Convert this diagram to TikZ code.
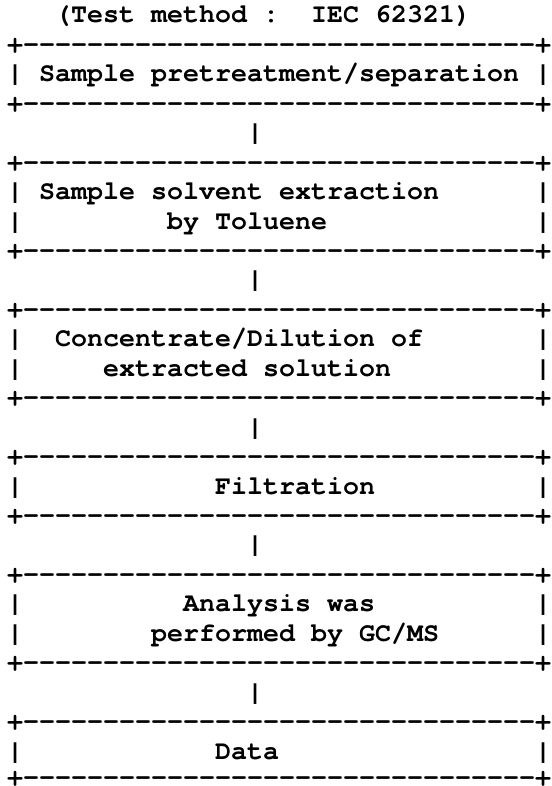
\documentclass[tikz,border=0pt]{standalone}
\usepackage{fontspec}
\setmonofont{texgyrecursor}[Extension=.otf, UprightFont=*-regular, BoldFont=*-bold]
\newcommand{\hrow}{+--------------------------------+}
\begin{document}
\begin{tikzpicture}[x=1pt,y=1pt,
  asc/.style={anchor=base west, inner sep=0pt, outer sep=0pt,
    font=\ttfamily\bfseries\fontsize{26.667}{29.44}\selectfont\frenchspacing}]
\useasboundingbox (0,0) rectangle (551,-786);
% title
\node[asc] (title) at (55,-23.00) {(Test method :~~IEC 62321)};
% box 1
\node[asc] (b1t) at (7,-52.44) {\hrow};
\node[asc] (b1l1) at (7,-81.88) {|};
\node[asc] (b1x1) at (39,-81.88) {Sample pretreatment/separation};
\node[asc] (b1r1) at (535,-81.88) {|};
\node[asc] (b1b) at (7,-111.32) {\hrow};
\node[asc] (c1) at (247,-140.76) {|};
% box 2
\node[asc] (b2t) at (7,-170.20) {\hrow};
\node[asc] (b2l1) at (7,-199.64) {|};
\node[asc] (b2x1) at (39,-199.64) {Sample solvent extraction};
\node[asc] (b2r1) at (535,-199.64) {|};
\node[asc] (b2l2) at (7,-229.08) {|};
\node[asc] (b2x2) at (167,-229.08) {by Toluene};
\node[asc] (b2r2) at (535,-229.08) {|};
\node[asc] (b2b) at (7,-258.52) {\hrow};
\node[asc] (c2) at (247,-287.96) {|};
% box 3
\node[asc] (b3t) at (7,-317.40) {\hrow};
\node[asc] (b3l1) at (7,-346.84) {|};
\node[asc] (b3x1) at (55,-346.84) {Concentrate/Dilution of};
\node[asc] (b3r1) at (535,-346.84) {|};
\node[asc] (b3l2) at (7,-376.28) {|};
\node[asc] (b3x2) at (103,-376.28) {extracted solution};
\node[asc] (b3r2) at (535,-376.28) {|};
\node[asc] (b3b) at (7,-405.72) {\hrow};
\node[asc] (c3) at (247,-435.16) {|};
% box 4
\node[asc] (b4t) at (7,-464.60) {\hrow};
\node[asc] (b4l1) at (7,-494.04) {|};
\node[asc] (b4x1) at (215,-494.04) {Filtration};
\node[asc] (b4r1) at (535,-494.04) {|};
\node[asc] (b4b) at (7,-523.48) {\hrow};
\node[asc] (c4) at (247,-552.92) {|};
% box 5
\node[asc] (b5t) at (7,-582.36) {\hrow};
\node[asc] (b5l1) at (7,-611.80) {|};
\node[asc] (b5x1) at (183,-611.80) {Analysis was};
\node[asc] (b5r1) at (535,-611.80) {|};
\node[asc] (b5l2) at (7,-641.24) {|};
\node[asc] (b5x2) at (151,-641.24) {performed by GC/MS};
\node[asc] (b5r2) at (535,-641.24) {|};
\node[asc] (b5b) at (7,-670.68) {\hrow};
\node[asc] (c5) at (247,-700.12) {|};
% box 6
\node[asc] (b6t) at (7,-729.56) {\hrow};
\node[asc] (b6l1) at (7,-759.00) {|};
\node[asc] (b6x1) at (215,-759.00) {Data};
\node[asc] (b6r1) at (535,-759.00) {|};
\node[asc] (b6b) at (7,-785.00) {\hrow};
\end{tikzpicture}
\end{document}
